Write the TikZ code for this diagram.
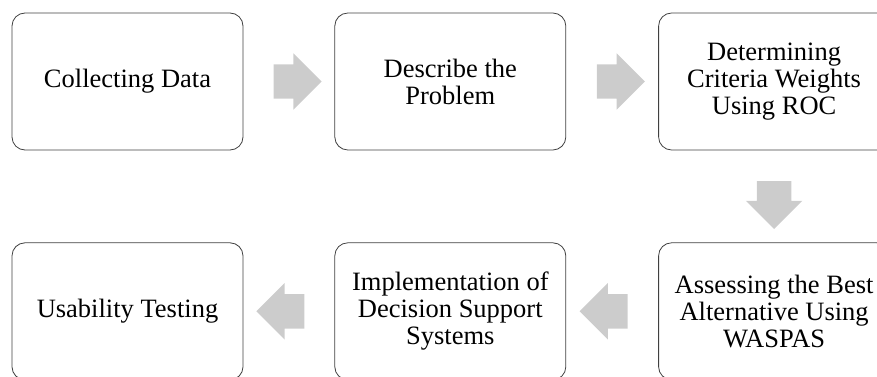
\documentclass[tikz,border=0pt]{standalone}
\usepackage{fontspec}
\setmainfont{Liberation Serif}
\usepackage{tikz}
\usetikzlibrary{
    calc,
    positioning,
    shapes.arrows
}
\tikzset{
    stepbox/.style={draw=black!75, line width=0.8pt, rounded corners=13pt,
        minimum width=231pt, minimum height=137pt, align=center,
        font=\fontsize{26.5}{27}\selectfont},
    flowarrow/.style={single arrow, fill=gray!40, draw=none,
        inner xsep=0pt, inner ysep=17pt, minimum height=48pt,
        single arrow head extend=11pt}
}

\begin{document}
\begin{tikzpicture}[x=1pt,y=1pt]
      \clip (0,-377) rectangle (877,0);
      \node[stepbox] (collect) at (127.5,-81.5) {Collecting Data};
      \node[stepbox, right=91pt of collect] (describe) {Describe the\\Problem};
      \node[stepbox, right=92pt of describe] (roc) {Determining\\Criteria Weights\\Using ROC};
      \node[stepbox, below=92pt of roc] (waspas) {Assessing the Best\\Alternative Using\\WASPAS};
      \node[stepbox, below=92pt of describe] (dss) {Implementation of\\Decision Support\\Systems};
      \node[stepbox, below=92pt of collect] (usability) {Usability Testing};
      \node[flowarrow] (a1) at ($(collect.east)!0.5!(describe.west)$) {};
      \node[flowarrow] (a2) at ($(describe.east)!0.5!(roc.west)$) {};
      \node[flowarrow, rotate=-90] (a3) at ($(roc.south)!0.5!(waspas.north)$) {};
      \node[flowarrow, rotate=180] (a4) at ($(waspas.west)!0.5!(dss.east)$) {};
      \node[flowarrow, rotate=180] (a5) at ($(dss.west)!0.5!(usability.east)$) {};
\end{tikzpicture}
\end{document}
